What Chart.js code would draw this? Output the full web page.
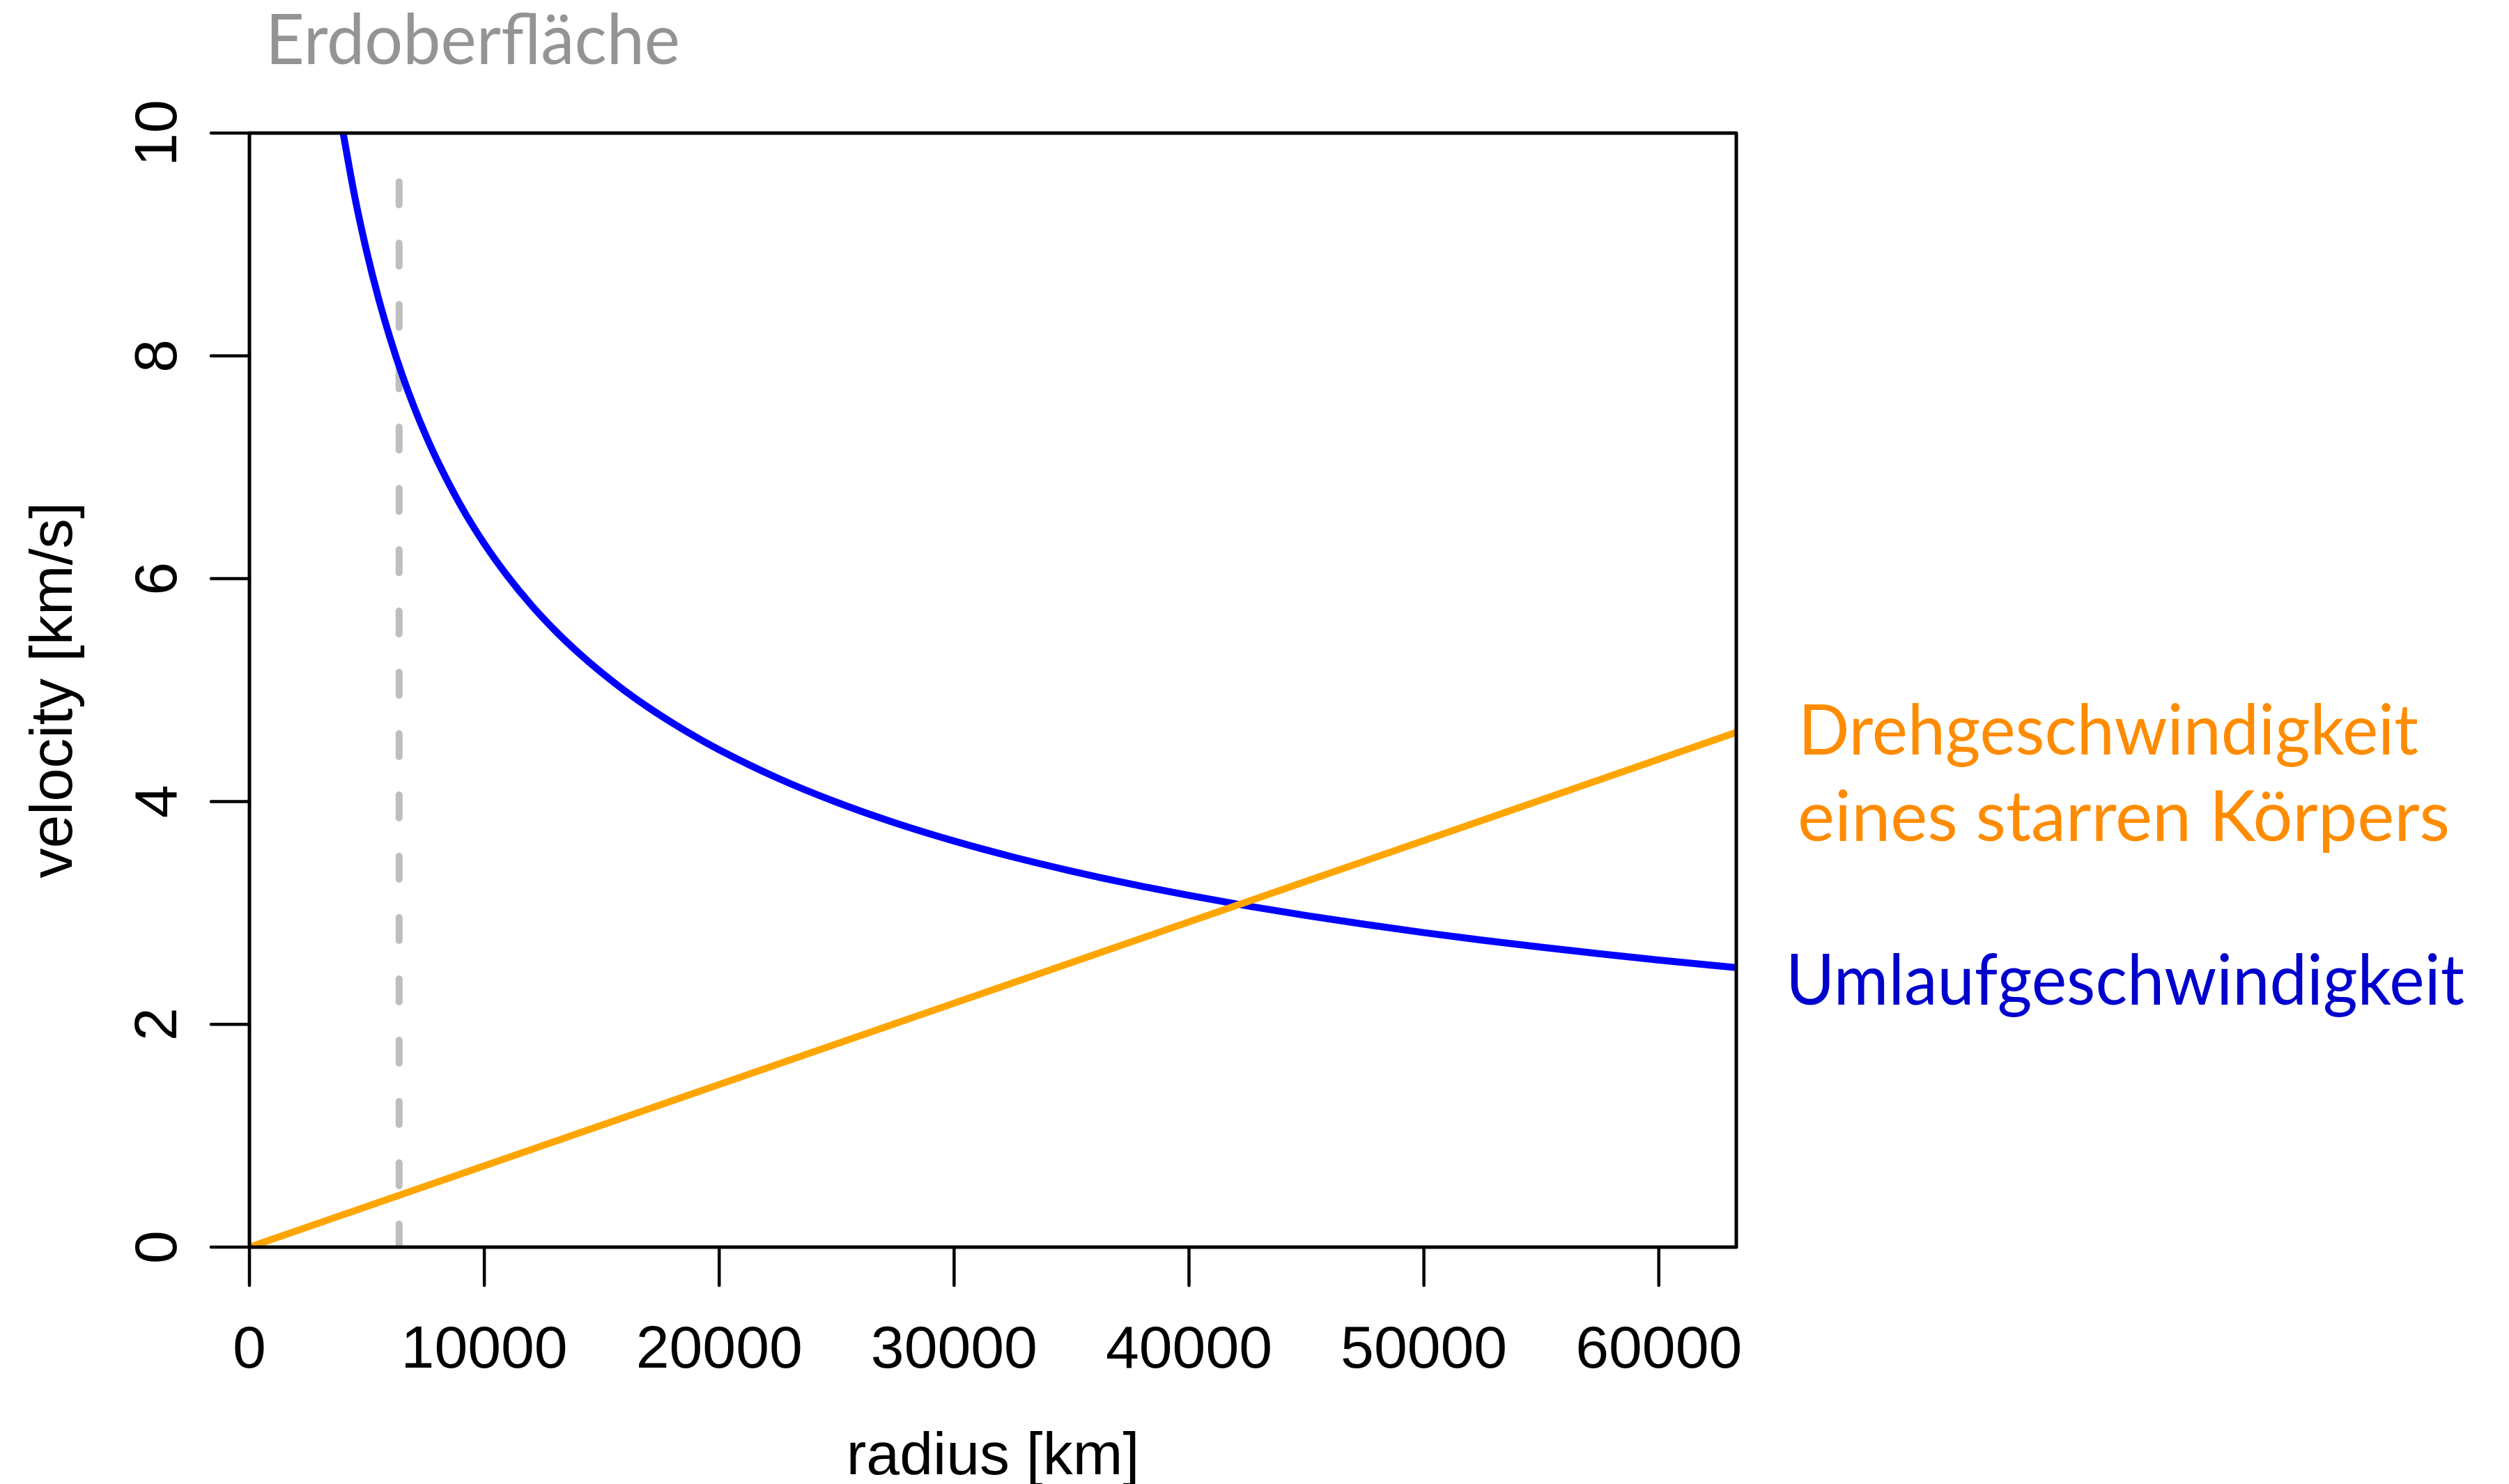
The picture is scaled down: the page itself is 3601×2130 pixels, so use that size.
<!DOCTYPE html>
<html>
<head>
<meta charset="utf-8">
<script src="https://cdn.jsdelivr.net/npm/chart.js@4/dist/chart.umd.min.js"></script>
<style>
  html, body { margin: 0; padding: 0; background: #ffffff; }
  #wrap { width: 3601px; height: 2130px; }
</style>
</head>
<body>
<div id="wrap"><canvas id="velo" width="3601" height="2130"></canvas></div>
<script>
// Umlaufgeschwindigkeit
const orbitRadius = [3940, 4500, 5000, 5500, 6000, 6500, 7000, 7500, 8000, 9000, 10000,
  11000, 12000, 13000, 14000, 15000, 16000, 17000, 18000, 19000, 20000,
  22500, 25000, 27500, 30000, 32500, 35000, 37500, 40000, 42500, 45000,
  47500, 50000, 52500, 55000, 57500, 60000, 63300];
const orbitSpeed = [10.058, 9.412, 8.929, 8.513, 8.151, 7.831, 7.546, 7.290, 7.059, 6.655, 6.313,
  6.020, 5.763, 5.537, 5.336, 5.155, 4.991, 4.842, 4.706, 4.580, 4.464,
  4.209, 3.993, 3.807, 3.645, 3.502, 3.375, 3.260, 3.157, 3.062, 2.976,
  2.897, 2.823, 2.755, 2.692, 2.633, 2.577, 2.509];

// Drehgeschwindigkeit eines starren Körpers
const rigidRadius = [0, 63300];
const rigidSpeed = [0, 4.62];

// Erdoberfläche
const surfaceRadius = [6371, 6371];
const surfaceSpeed = [0, 9.7];

const xTicks = [0, 10000, 20000, 30000, 40000, 50000, 60000];
const yTicks = [0, 2, 4, 6, 8, 10];
const xMax = 63300;
const yMax = 10;

const xTitle = "radius [km]";
const yTitle = "velocity [km/s]";
const surfaceLabel = "Erdoberfläche";
const rigidLabel = ["Drehgeschwindigkeit", "eines starren Körpers"];
const orbitLabel = "Umlaufgeschwindigkeit";

const toPoints = (xs, ys) => xs.map((x, i) => ({ x: x, y: ys[i] }));

const axisFont = "86px 'Liberation Sans', Arial, Helvetica, sans-serif";
const noteFont = "100px Lato, 'Open Sans', sans-serif";

// draws text squeezed/stretched to a given width, starting at x
function fitText(ctx, text, x, y, width) {
  const w = ctx.measureText(text).width;
  ctx.save();
  ctx.translate(x, y);
  ctx.scale(width / w, 1);
  ctx.textAlign = "left";
  ctx.fillText(text, 0, 0);
  ctx.restore();
}

const rAxes = {
  id: "rAxes",
  afterDatasetsDraw(chart) {
    const { ctx, chartArea: a, scales } = chart;
    const xs = scales.x, ys = scales.y;
    ctx.save();

    // box
    ctx.strokeStyle = "#000000";
    ctx.lineWidth = 5;
    ctx.lineJoin = "round";
    ctx.strokeRect(a.left, a.top, a.right - a.left, a.bottom - a.top);

    // ticks
    ctx.lineWidth = 4.5;
    ctx.lineCap = "round";
    xTicks.forEach(v => {
      const px = xs.getPixelForValue(v);
      ctx.beginPath();
      ctx.moveTo(px, a.bottom);
      ctx.lineTo(px, a.bottom + 55);
      ctx.stroke();
    });
    yTicks.forEach(v => {
      const py = ys.getPixelForValue(v);
      ctx.beginPath();
      ctx.moveTo(a.left, py);
      ctx.lineTo(a.left - 55, py);
      ctx.stroke();
    });

    // tick labels
    ctx.fillStyle = "#000000";
    ctx.font = axisFont;
    ctx.textAlign = "center";
    ctx.textBaseline = "alphabetic";
    xTicks.forEach(v => {
      ctx.fillText(String(v), xs.getPixelForValue(v), a.bottom + 173);
    });
    yTicks.forEach(v => {
      ctx.save();
      ctx.translate(a.left - 105, ys.getPixelForValue(v));
      ctx.rotate(-Math.PI / 2);
      ctx.fillText(String(v), 0, 0);
      ctx.restore();
    });

    // axis titles
    ctx.fillText(xTitle, (a.left + a.right) / 2, a.bottom + 326);
    ctx.save();
    ctx.translate(a.left - 255, (a.top + a.bottom) / 2);
    ctx.rotate(-Math.PI / 2);
    ctx.fillText(yTitle, 0, 0);
    ctx.restore();

    // annotations
    ctx.font = noteFont;
    ctx.fillStyle = "#949494";
    fitText(ctx, surfaceLabel, 381, 92, 595);
    ctx.fillStyle = "#FF8C00";
    fitText(ctx, rigidLabel[0], 2581, 1083, 890);
    fitText(ctx, rigidLabel[1], 2580, 1207, 936);
    ctx.fillStyle = "#0000CD";
    fitText(ctx, orbitLabel, 2563, 1442, 974);

    ctx.restore();
  }
};

new Chart(document.getElementById("velo"), {
  type: "line",
  data: {
    datasets: [
      {
        label: "Drehgeschwindigkeit eines starren Körpers",
        data: toPoints(rigidRadius, rigidSpeed),
        borderColor: "#FFA500",
        borderWidth: 10,
        pointRadius: 0,
        clip: 0
      },
      {
        label: "Umlaufgeschwindigkeit",
        data: toPoints(orbitRadius, orbitSpeed),
        borderColor: "#0000FF",
        borderWidth: 10,
        pointRadius: 0,
        cubicInterpolationMode: "monotone",
        clip: 0
      },
      {
        label: "Erdoberfläche",
        data: toPoints(surfaceRadius, surfaceSpeed),
        borderColor: "#BEBEBE",
        borderWidth: 10,
        borderDash: [33, 55],
        borderCapStyle: "round",
        pointRadius: 0,
        clip: 0
      }
    ]
  },
  options: {
    responsive: false,
    animation: false,
    devicePixelRatio: 1,
    layout: { padding: { left: 358, top: 191, right: 1109, bottom: 340 } },
    plugins: {
      legend: { display: false },
      title: { display: false },
      tooltip: { enabled: false }
    },
    scales: {
      x: { type: "linear", min: 0, max: xMax, display: false },
      y: { type: "linear", min: 0, max: yMax, display: false }
    }
  },
  plugins: [rAxes]
});
</script>
</body>
</html>
